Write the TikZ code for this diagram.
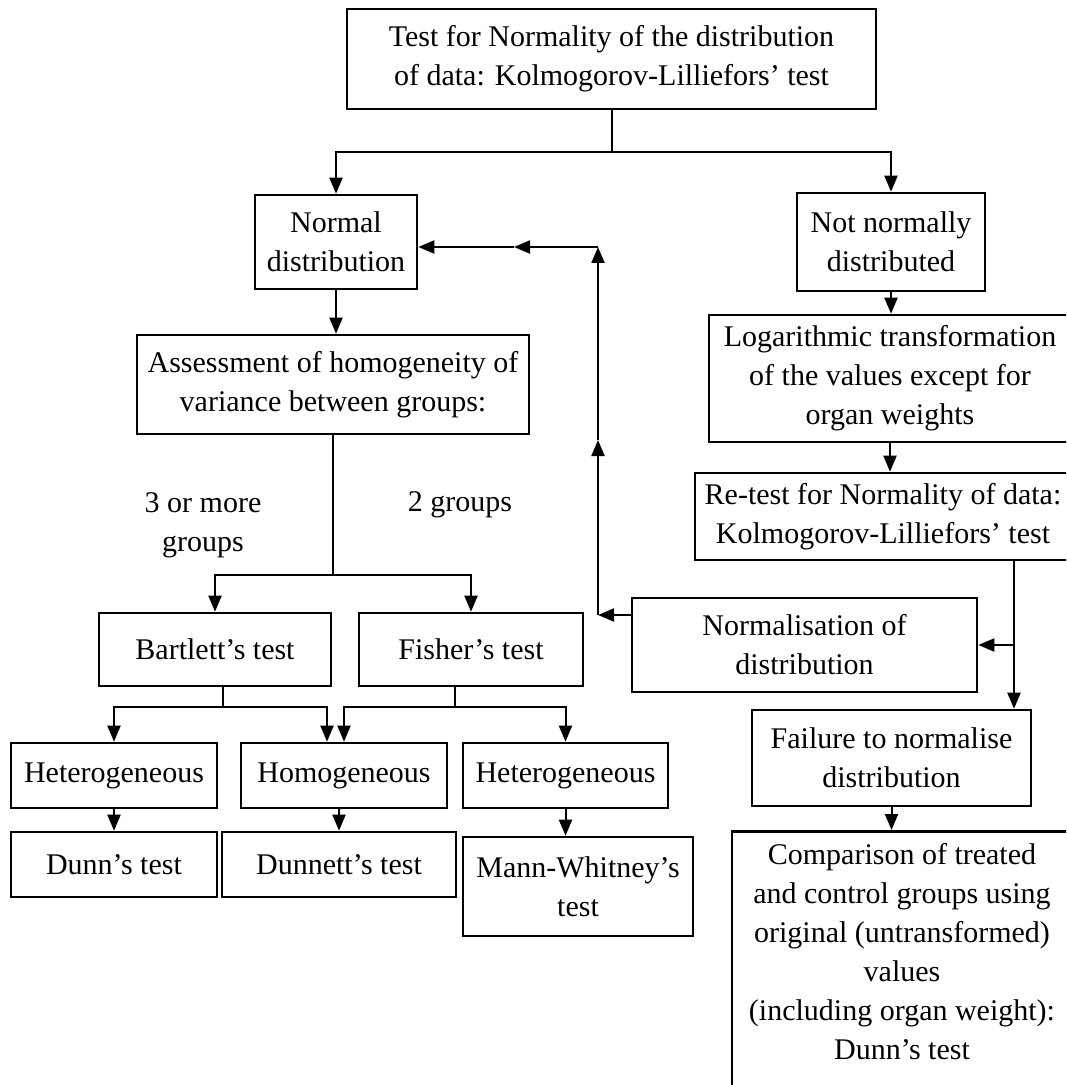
\documentclass[tikz,border=0pt]{standalone}
\usepackage{fontspec}
\setmainfont{Liberation Serif}
\usetikzlibrary{arrows.meta}

\tikzset{
    box/.style = {draw, line width=1.3pt, align=center, inner sep=3pt,
                  font={\fontsize{15}{19.5}\selectfont}},
    lbl/.style = {align=center, font={\fontsize{15}{19.5}\selectfont}},
    line/.style = {line width=1pt},
    arr/.style = {line width=1pt, -{Triangle[length=8pt,width=6.5pt]}}
}

\begin{document}
\begin{tikzpicture}[x=0.5pt, y=-0.5pt]
        \clip (0,0) rectangle (1066,1085);

        \node[box, minimum width=264.5pt, minimum height=50pt] (top) at (611.5,59) {Test for Normality of the distribution\\of data: Kolmogorov-Lilliefors' test};
        \node[box, minimum width=81pt, minimum height=47pt] (normal) at (336,242) {Normal\\distribution};
        \node[box, minimum width=94pt, minimum height=49pt] (notnorm) at (891,242) {Not normally\\distributed};
        \node[box, minimum width=196pt, minimum height=49.5pt] (assess) at (333,384.5) {Assessment of homogeneity of\\variance between groups:};
        \node[box, minimum width=181pt, minimum height=63.5pt] (logt) at (890,378.5) {Logarithmic transformation\\of the values except for\\organ weights};
        \node[box, minimum width=188pt, minimum height=43.5pt] (retest) at (883,516.5) {Re-test for Normality of data:\\Kolmogorov-Lilliefors' test};
        \node[box, minimum width=172.5pt, minimum height=47pt] (normalis) at (804.5,645) {Normalisation of\\distribution};
        \node[box, minimum width=139.5pt, minimum height=48pt] (failure) at (891.5,758) {Failure to normalise\\distribution};
        \node[box, minimum width=170pt, inner ysep=6pt, text depth=30pt, anchor=north] (compare) at (902,830) {Comparison of treated\\and control groups using\\original (untransformed)\\values\\(including organ weight):\\Dunn's test};

        \node[lbl] (more) at (203,525) {3 or more\\groups};
        \node[lbl] (two) at (460,505) {2 groups};

        \node[box, minimum width=116pt, minimum height=36.5pt] (bartlett) at (215,649.5) {Bartlett's test};
        \node[box, minimum width=112pt, minimum height=36.5pt] (fisher) at (471,649.5) {Fisher's test};
        \node[box, minimum width=103pt, minimum height=32.5pt] (het1) at (114,775.5) {Heterogeneous};
        \node[box, minimum width=103pt, minimum height=32.5pt] (homog) at (344,775.5) {Homogeneous};
        \node[box, minimum width=102.5pt, minimum height=32.5pt] (het2) at (565.5,775.5) {Heterogeneous};
        \node[box, minimum width=103pt, minimum height=32.5pt] (dunn) at (114,864.5) {Dunn's test};
        \node[box, minimum width=117pt, minimum height=32.5pt] (dunnett) at (339,864.5) {Dunnett's test};
        \node[box, minimum width=115pt, minimum height=49.5pt] (mann) at (578,886.5) {Mann-Whitney's\\test};

        \coordinate (t1) at (611.5,152);
        \coordinate (a1) at (333,575);
        \coordinate (b1) at (223,707);
        \coordinate (f1) at (455,707);
        \coordinate (r1) at (1014,645);
        \coordinate (n1) at (598,615);
        \coordinate (n2) at (598,440);
        \coordinate (n3) at (598,247);
        \coordinate (n4) at (514,247);

        \draw[line] (top.south) -- (t1);
        \draw[arr] (t1) -| (normal.north);
        \draw[arr] (t1) -| (notnorm.north);
        \draw[arr] (normal.south) -- (normal.south |- assess.north);
        \draw[line] (assess.south) -- (a1);
        \draw[arr] (a1) -| (bartlett.north);
        \draw[arr] (a1) -| (fisher.north);
        \draw[line] (b1 |- bartlett.south) -- (b1);
        \draw[arr] (b1) -| (het1.north);
        \draw[arr] (b1) -| ([xshift=-8.5pt]homog.north);
        \draw[line] (f1 |- fisher.south) -- (f1);
        \draw[arr] (f1) -| (homog.north);
        \draw[arr] (f1) -| (het2.north);
        \draw[arr] (het1.south) -- (het1.south |- dunn.north);
        \draw[arr] (dunnett.north |- homog.south) -- (dunnett.north);
        \draw[arr] (het2.south) -- (het2.south |- mann.north);

        \draw[arr] (notnorm.south) -- (notnorm.south |- logt.north);
        \draw[arr] (logt.south) -- (logt.south |- retest.north);
        \draw[arr] (r1 |- retest.south) -- (r1 |- failure.north);
        \draw[arr] (r1) -- (normalis.east);
        \draw[arr] (failure.south) -- (failure.south |- compare.north);

        \draw[arr] (n1 -| normalis.west) -- (n1);
        \draw[arr] (n1) -- (n2);
        \draw[arr] (n2) -- (n3);
        \draw[arr] (n3) -- (n4);
        \draw[arr] (n4) -- (n4 -| normal.east);
    \end{tikzpicture}
\end{document}
